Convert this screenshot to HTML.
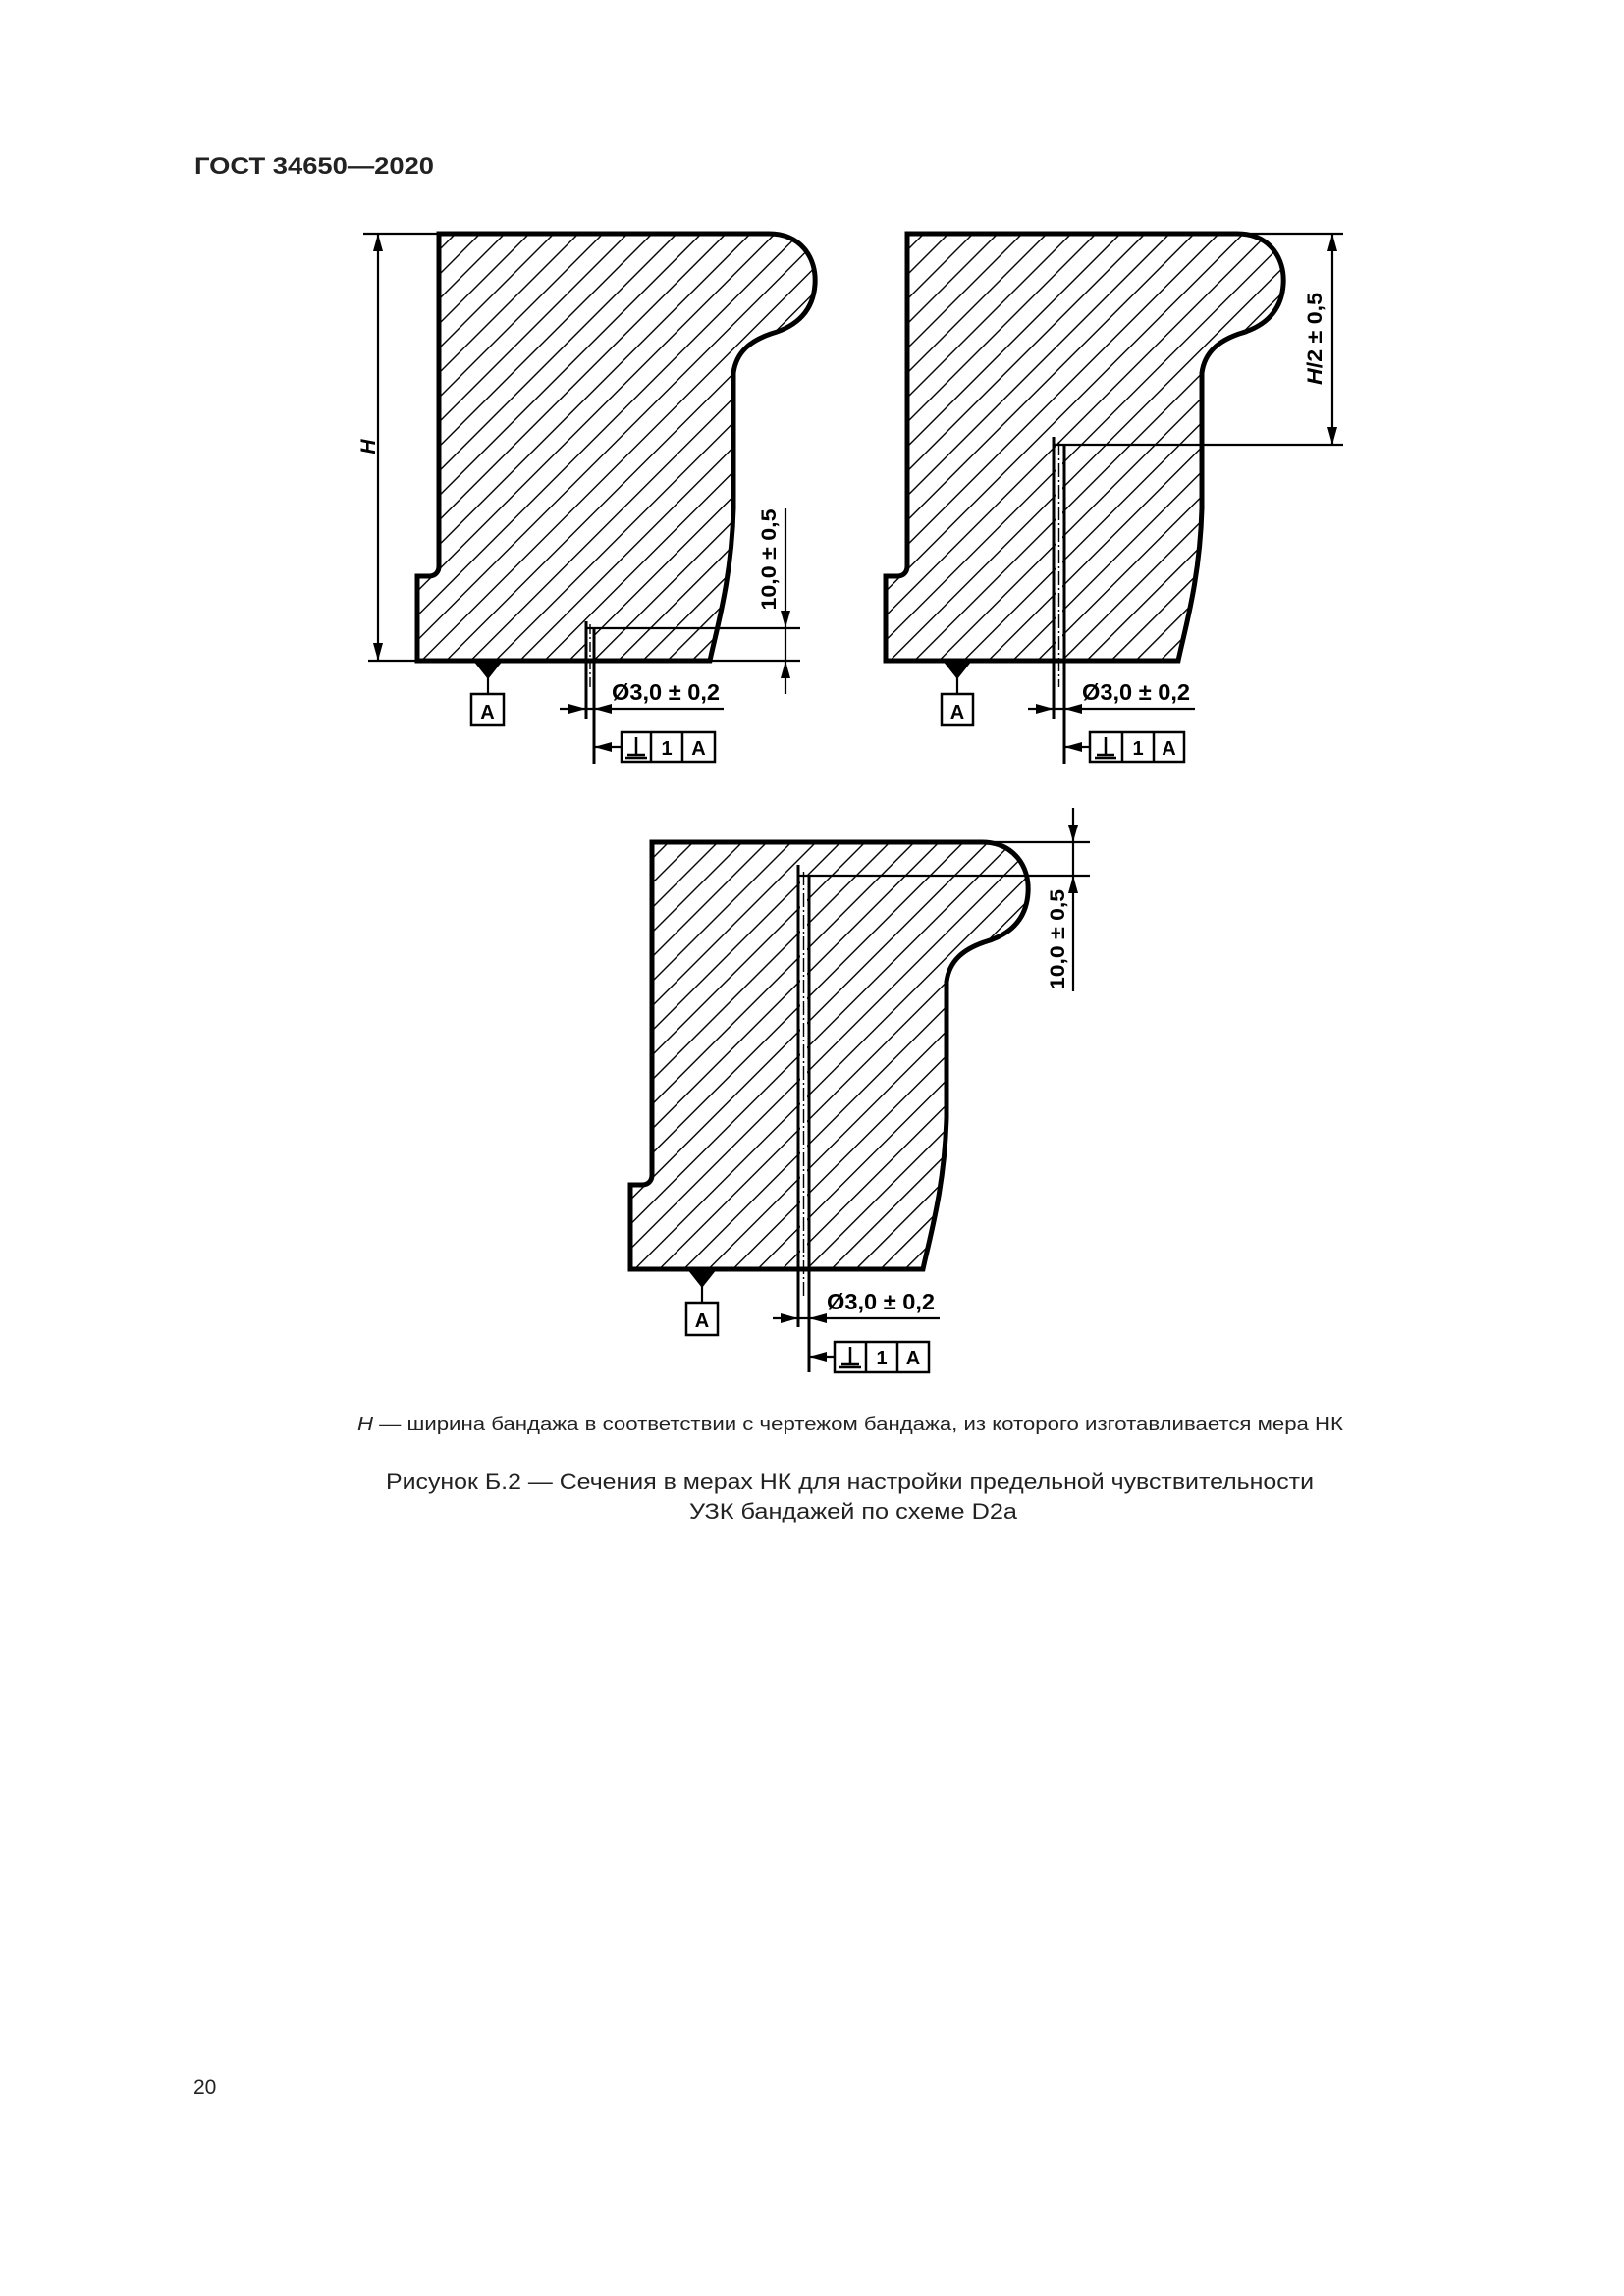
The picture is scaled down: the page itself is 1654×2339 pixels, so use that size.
<!DOCTYPE html>
<html><head><meta charset="utf-8"><style>
html,body{margin:0;padding:0;background:#fff}
svg{display:block}
</style></head><body>
<svg width="1654" height="2339" viewBox="0 0 1654 2339" xmlns="http://www.w3.org/2000/svg" font-family="'Liberation Sans', sans-serif">
<defs>
<pattern id="h" patternUnits="userSpaceOnUse" width="17.7" height="17.7" patternTransform="rotate(45)">
<line x1="0" y1="0" x2="0" y2="17.7" stroke="#000" stroke-width="2.8"/>
</pattern>
<path id="s" d="M447,238 L783,238 C815,238 832,262 830,290 C828,318 810,333 785,340 C765,347 750,358 747,380 L747,518 C745,590 730,640 723,673 L425,673 L425,587 L437,587 C443,587 447,583 447,577 Z"/>
</defs>

<text x="198" y="177" font-size="24" font-weight="bold" textLength="244" lengthAdjust="spacingAndGlyphs" fill="#222">ГОСТ 34650—2020</text>

<g stroke="#000" fill="none">
<!-- FIG 1 -->
<use href="#s" fill="url(#h)" stroke="none"/>
<rect x="597" y="640" width="7" height="33" fill="#fff" stroke="none"/>
<use href="#s" stroke-width="5"/>
<line x1="370" y1="238" x2="447" y2="238" stroke-width="2.2"/>
<line x1="375" y1="673" x2="425" y2="673" stroke-width="2.2"/>
<line x1="385" y1="238" x2="385" y2="673" stroke-width="2.2"/>
<line x1="597" y1="633" x2="597" y2="732" stroke-width="3"/>
<line x1="605" y1="640" x2="605" y2="778" stroke-width="3"/>
<line x1="601" y1="636" x2="601" y2="700" stroke-width="1.4" stroke-dasharray="10,3,2,3"/>
<line x1="597" y1="640" x2="815" y2="640" stroke-width="2.2"/>
<line x1="723" y1="673" x2="815" y2="673" stroke-width="2.2"/>
<line x1="800" y1="518" x2="800" y2="707" stroke-width="2.2"/>
<line x1="570" y1="722" x2="737" y2="722" stroke-width="2.2"/>
<line x1="605" y1="761" x2="633" y2="761" stroke-width="2.2"/>
<line x1="497" y1="690" x2="497" y2="707" stroke-width="2.2"/>
<rect x="480" y="707" width="33" height="32" stroke-width="2.5"/>
<rect x="633" y="746" width="95" height="30" stroke-width="2.5"/>
<line x1="663" y1="746" x2="663" y2="776" stroke-width="2.5"/>
<line x1="695" y1="746" x2="695" y2="776" stroke-width="2.5"/>

<!-- FIG 2 -->
<g transform="translate(477,0)">
<use href="#s" fill="url(#h)" stroke="none"/>
<rect x="598" y="453" width="7" height="220" fill="#fff" stroke="none"/>
<use href="#s" stroke-width="5"/>
</g>
<line x1="1073" y1="445" x2="1073" y2="732" stroke-width="3"/>
<line x1="1084" y1="453" x2="1084" y2="778" stroke-width="3"/>
<line x1="1078.5" y1="450" x2="1078.5" y2="700" stroke-width="1.4" stroke-dasharray="14,3,2,3"/>
<line x1="1073" y1="453" x2="1368" y2="453" stroke-width="2.2"/>
<line x1="1263" y1="238" x2="1368" y2="238" stroke-width="2.2"/>
<line x1="1357" y1="238" x2="1357" y2="453" stroke-width="2.2"/>
<line x1="1047" y1="722" x2="1217" y2="722" stroke-width="2.2"/>
<line x1="1084" y1="761" x2="1110" y2="761" stroke-width="2.2"/>
<line x1="975" y1="690" x2="975" y2="707" stroke-width="2.2"/>
<rect x="959" y="707" width="32" height="32" stroke-width="2.5"/>
<rect x="1110" y="746" width="96" height="30" stroke-width="2.5"/>
<line x1="1143" y1="746" x2="1143" y2="776" stroke-width="2.5"/>
<line x1="1175" y1="746" x2="1175" y2="776" stroke-width="2.5"/>

<!-- FIG 3 -->
<g transform="translate(217,620)">
<use href="#s" fill="url(#h)" stroke="none"/>
<rect x="598" y="272" width="7" height="401" fill="#fff" stroke="none"/>
<use href="#s" stroke-width="5"/>
</g>
<line x1="813" y1="881" x2="813" y2="1352" stroke-width="3"/>
<line x1="824" y1="892" x2="824" y2="1398" stroke-width="3"/>
<line x1="818.5" y1="888" x2="818.5" y2="1320" stroke-width="1.4" stroke-dasharray="14,3,2,3"/>
<line x1="813" y1="892" x2="1110" y2="892" stroke-width="2.2"/>
<line x1="1013" y1="858" x2="1110" y2="858" stroke-width="2.2"/>
<line x1="1093" y1="823" x2="1093" y2="1010" stroke-width="2.2"/>
<line x1="787" y1="1343" x2="957" y2="1343" stroke-width="2.2"/>
<line x1="824" y1="1382" x2="850" y2="1382" stroke-width="2.2"/>
<line x1="715" y1="1310" x2="715" y2="1327" stroke-width="2.2"/>
<rect x="699" y="1327" width="32" height="33" stroke-width="2.5"/>
<rect x="850" y="1367" width="96" height="31" stroke-width="2.5"/>
<line x1="882" y1="1367" x2="882" y2="1398" stroke-width="2.5"/>
<line x1="914" y1="1367" x2="914" y2="1398" stroke-width="2.5"/>
</g>

<g fill="#000">
<path d="M385,238 l-5,18 l10,0 z"/><path d="M385,673 l-5,-18 l10,0 z"/>
<path d="M800,640 l-5,-18 l10,0 z"/><path d="M800,673 l-5,18 l10,0 z"/>
<path d="M597,722 l-18,-5 l0,10 z"/><path d="M605,722 l18,-5 l0,10 z"/>
<path d="M605,761 l18,-5 l0,10 z"/>
<path d="M482,673 l30,0 l-15,19 z"/>
<path d="M1357,238 l-5,18 l10,0 z"/><path d="M1357,453 l-5,-18 l10,0 z"/>
<path d="M1073,722 l-18,-5 l0,10 z"/><path d="M1084,722 l18,-5 l0,10 z"/>
<path d="M1084,761 l18,-5 l0,10 z"/>
<path d="M960,673 l30,0 l-15,19 z"/>
<path d="M1093,858 l-5,-18 l10,0 z"/><path d="M1093,892 l-5,18 l10,0 z"/>
<path d="M813,1343 l-18,-5 l0,10 z"/><path d="M824,1343 l18,-5 l0,10 z"/>
<path d="M824,1382 l18,-5 l0,10 z"/>
<path d="M700,1293 l30,0 l-15,19 z"/>
</g>

<g font-weight="bold" fill="#000">
<text x="623" y="713" font-size="23" textLength="110" lengthAdjust="spacingAndGlyphs">Ø3,0 ± 0,2</text>
<text x="1102" y="713" font-size="23" textLength="110" lengthAdjust="spacingAndGlyphs">Ø3,0 ± 0,2</text>
<text x="842" y="1334" font-size="23" textLength="110" lengthAdjust="spacingAndGlyphs">Ø3,0 ± 0,2</text>
<text transform="translate(790,570) rotate(-90)" text-anchor="middle" font-size="21" textLength="103" lengthAdjust="spacingAndGlyphs">10,0 ± 0,5</text>
<text transform="translate(1084,957) rotate(-90)" text-anchor="middle" font-size="21" textLength="102" lengthAdjust="spacingAndGlyphs">10,0 ± 0,5</text>
<text transform="translate(1346,345) rotate(-90)" text-anchor="middle" font-size="21" textLength="94" lengthAdjust="spacingAndGlyphs"><tspan font-style="italic">H</tspan>/2 ± 0,5</text>
<text transform="translate(382,455) rotate(-90)" text-anchor="middle" font-size="21" font-style="italic">H</text>
<text x="496.5" y="732" text-anchor="middle" font-size="20">A</text>
<text x="975" y="732" text-anchor="middle" font-size="20">A</text>
<text x="715" y="1352" text-anchor="middle" font-size="20">A</text>
<text x="679" y="769" text-anchor="middle" font-size="20">1</text>
<text x="711.5" y="769" text-anchor="middle" font-size="20">A</text>
<text x="1159" y="769" text-anchor="middle" font-size="20">1</text>
<text x="1190.5" y="769" text-anchor="middle" font-size="20">A</text>
<text x="898" y="1390" text-anchor="middle" font-size="20">1</text>
<text x="930" y="1390" text-anchor="middle" font-size="20">A</text>
</g>
<g stroke="#000" stroke-width="2.5">
<line x1="648" y1="751" x2="648" y2="769"/><line x1="639" y1="769" x2="657" y2="769"/><line x1="637" y1="772" x2="659" y2="772"/>
<line x1="1126" y1="751" x2="1126" y2="769"/><line x1="1117" y1="769" x2="1135" y2="769"/><line x1="1115" y1="772" x2="1137" y2="772"/>
<line x1="866" y1="1372" x2="866" y2="1390"/><line x1="857" y1="1390" x2="875" y2="1390"/><line x1="855" y1="1393" x2="877" y2="1393"/>
</g>

<g fill="#222">
<text x="364" y="1457" font-size="18" textLength="1004" lengthAdjust="spacingAndGlyphs"><tspan font-style="italic">H</tspan> — ширина бандажа в соответствии с чертежом бандажа, из которого изготавливается мера НК</text>
<text x="393" y="1517" font-size="22" textLength="945" lengthAdjust="spacingAndGlyphs">Рисунок Б.2 — Сечения в мерах НК для настройки предельной чувствительности</text>
<text x="702" y="1547" font-size="22" textLength="334" lengthAdjust="spacingAndGlyphs">УЗК бандажей по схеме D2a</text>
<text x="197" y="2133" font-size="21">20</text>
</g>
</svg>
</body></html>
